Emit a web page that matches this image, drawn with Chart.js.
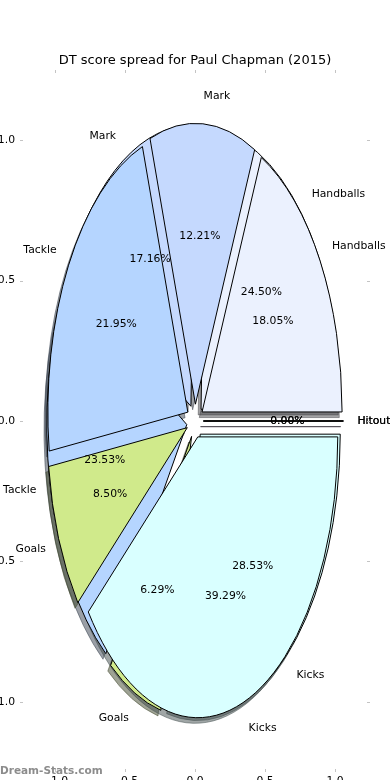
<!DOCTYPE html>
<html><head><meta charset="utf-8">
<script src="https://cdn.jsdelivr.net/npm/chart.js@4/dist/chart.umd.min.js"></script>
<style>html,body{margin:0;padding:0;background:#fff}#wrap{width:390px;height:780px}</style>
</head><body><div id="wrap"><canvas id="c" width="390" height="780"></canvas></div>
<script>
const titleText = 'DT score spread for Paul Chapman (2015)';
const categories = ['Handballs', 'Mark', 'Tackle', 'Goals', 'Kicks', 'Hitout'];
const backPercents = [24.50, 17.16, 23.53, 6.29, 28.53, 0.00];
const frontPercents = [18.05, 12.21, 21.95, 8.50, 39.29, 0.00];
const categoryColors = ['#ebf1fe', '#c5d9fe', '#b5d5ff', '#d0ea8b', '#d9ffff', '#f0e0ff'];
const tickValues = [-1.0, -0.5, 0.0, 0.5, 1.0];
const watermarkText = 'Dream-Stats.com';

const FONT = "'DejaVu Sans', sans-serif";
const EXPLODE = 0.06, SHADOW = -0.02, LABEL_R = 1.1, PCT_R = 0.6;

function shade(hex) {
  const n = parseInt(hex.slice(1), 16);
  const r = Math.round(((n >> 16) & 255) * 0.3), g = Math.round(((n >> 8) & 255) * 0.3), b = Math.round((n & 255) * 0.3);
  return `rgb(${r},${g},${b})`;
}
function wedgeGeometry(values) {
  const total = values.reduce((a, b) => a + b, 0);
  let t = 0;
  return values.map((v, i) => {
    const t1 = t, t2 = t + 360 * v / total; t = t2;
    const m = (t1 + t2) / 2 * Math.PI / 180;
    return { i, v, t1, t2, m, cx: EXPLODE * Math.cos(m), cy: EXPLODE * Math.sin(m) };
  });
}
const fmtTick = v => (v < 0 ? '\u2212' : '') + Math.abs(v).toFixed(1);
const zeroPad = s => { s.paddingTop = 0; s.paddingBottom = 0; s.paddingLeft = 0; s.paddingRight = 0; };

const piePlugin = {
  id: 'pies',
  afterDatasetsDraw(chart) {
    const { ctx } = chart; const x = chart.scales.x, y = chart.scales.y;
    const geo = chart.data.datasets.map(ds => wedgeGeometry(ds.pieValues));
    const path = (w, dx, dy) => {
      const px = x.getPixelForValue(w.cx + dx), py = y.getPixelForValue(w.cy + dy);
      const rx = x.getPixelForValue(w.cx + dx + 1) - px, ry = py - y.getPixelForValue(w.cy + dy + 1);
      ctx.beginPath(); ctx.moveTo(px, py);
      ctx.ellipse(px, py, rx, ry, 0, -w.t1 * Math.PI / 180, -w.t2 * Math.PI / 180, true);
      ctx.closePath();
    };
    ctx.save();
    ctx.lineJoin = 'round';
    geo.forEach(ws => ws.forEach(w => {
      const c = shade(categoryColors[w.i]);
      path(w, SHADOW, SHADOW);
      ctx.globalAlpha = 0.5; ctx.fillStyle = c; ctx.strokeStyle = c; ctx.lineWidth = 1;
      ctx.fill(); ctx.stroke();
    }));
    ctx.globalAlpha = 1;
    geo.forEach(ws => ws.forEach(w => {
      path(w, 0, 0);
      ctx.fillStyle = categoryColors[w.i]; ctx.fill();
      ctx.strokeStyle = '#000'; ctx.lineWidth = 1; ctx.stroke();
    }));
    ctx.font = `10.8px ${FONT}`; ctx.fillStyle = '#000'; ctx.textBaseline = 'middle';
    geo.forEach(ws => ws.forEach(w => {
      const lx = w.cx + LABEL_R * Math.cos(w.m), ly = w.cy + LABEL_R * Math.sin(w.m);
      ctx.textAlign = lx > 0 ? 'left' : 'right';
      ctx.fillText(categories[w.i], x.getPixelForValue(lx), y.getPixelForValue(ly));
      const qx = w.cx + PCT_R * Math.cos(w.m), qy = w.cy + PCT_R * Math.sin(w.m);
      ctx.textAlign = 'center';
      ctx.fillText(w.v.toFixed(2) + '%', x.getPixelForValue(qx), y.getPixelForValue(qy));
    }));
    ctx.restore();
  },
  afterDraw(chart) {
    const { ctx, chartArea: a } = chart; const x = chart.scales.x, y = chart.scales.y;
    ctx.save();
    ctx.strokeStyle = '#c4c4c4'; ctx.lineWidth = 1;
    const L = 3;
    tickValues.forEach(v => {
      const px = Math.round(x.getPixelForValue(v)) + 0.5;
      ctx.beginPath(); ctx.moveTo(px, a.top); ctx.lineTo(px, a.top + L); ctx.moveTo(px, a.bottom - L); ctx.lineTo(px, a.bottom); ctx.stroke();
      const py = Math.round(y.getPixelForValue(v)) + 0.5;
      ctx.beginPath(); ctx.moveTo(a.left, py); ctx.lineTo(a.left + L, py); ctx.moveTo(a.right - L, py); ctx.lineTo(a.right, py); ctx.stroke();
    });
    ctx.font = `bold 10.5px ${FONT}`; ctx.fillStyle = 'rgba(120,120,120,0.85)';
    ctx.textAlign = 'left'; ctx.textBaseline = 'alphabetic';
    ctx.fillText(watermarkText, 0, 773.5);
    ctx.restore();
  }
};

const tickFont = { family: FONT, size: 10.8 };
const noGrid = { display: false, drawTicks: false, tickLength: 0 };
new Chart(document.getElementById('c'), {
  type: 'scatter',
  data: { datasets: [
    { label: 'Back', data: [], pieValues: backPercents },
    { label: 'Front', data: [], pieValues: frontPercents }
  ] },
  options: {
    responsive: false, animation: false, devicePixelRatio: 1,
    layout: { padding: 0 },
    plugins: {
      legend: { display: false }, tooltip: { enabled: false },
      title: { display: true, text: titleText, color: '#000', font: { family: FONT, size: 13, weight: 'normal' }, padding: { top: 53.2, bottom: 1.2 } }
    },
    scales: {
      x: { type: 'linear', position: 'bottom', min: -1.25, max: 1.25,
        grid: noGrid, border: { display: false },
        afterBuildTicks: s => { s.ticks = tickValues.map(v => ({ value: v })); },
        afterFit: s => { s.height = 8; zeroPad(s); },
        ticks: { padding: 3, font: tickFont, color: '#000', maxRotation: 0, autoSkip: false, callback: fmtTick } },
      y: { type: 'linear', position: 'left', min: -1.25, max: 1.25,
        grid: noGrid, border: { display: false },
        afterBuildTicks: s => { s.ticks = tickValues.map(v => ({ value: v })); },
        afterFit: s => { s.width = 20; zeroPad(s); },
        ticks: { padding: 5, font: tickFont, color: '#000', autoSkip: false, callback: fmtTick } },
      y2: { type: 'linear', position: 'right', min: -1.25, max: 1.25,
        grid: noGrid, border: { display: false },
        afterFit: s => { s.width = 20; zeroPad(s); },
        ticks: { display: false } }
    }
  },
  plugins: [piePlugin]
});
</script></body></html>
